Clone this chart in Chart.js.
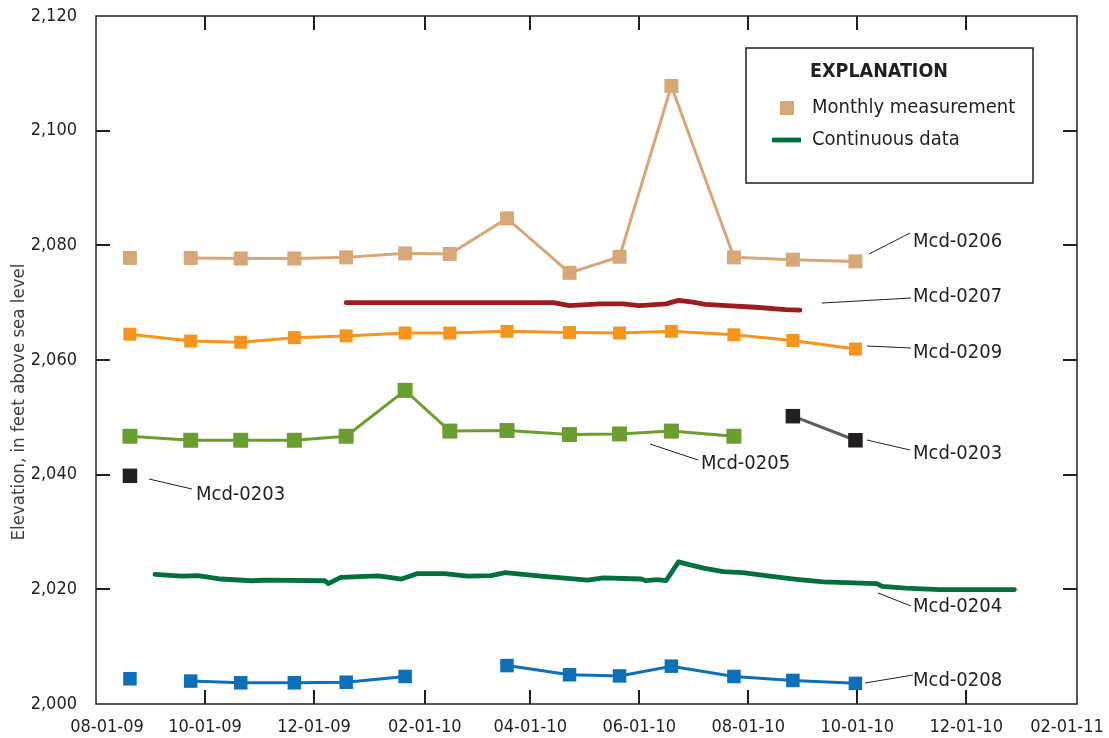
<!DOCTYPE html>
<html><head><meta charset="utf-8">
<script src="https://cdn.jsdelivr.net/npm/chart.js@4.4.1/dist/chart.umd.min.js"></script>
<style>html,body{margin:0;padding:0;background:#fff}#wrap{width:1109px;height:738px;position:relative}</style>
</head><body><div id="wrap"><canvas id="c"></canvas></div>
<script>
// ---------- data ----------
const xTickDates = ['2009-08-01','2009-10-01','2009-12-01','2010-02-01','2010-04-01','2010-06-01','2010-08-01','2010-10-01','2010-12-01','2011-02-01'];
const xTickLabels = ['08-01-09','10-01-09','12-01-09','02-01-10','04-01-10','06-01-10','08-01-10','10-01-10','12-01-10','02-01-11'];
const yMin = 2000, yMax = 2120, yStep = 20;

const monthlyDates = ['2009-08-20','2009-09-23','2009-10-21','2009-11-20','2009-12-19','2010-01-21','2010-02-15','2010-03-19','2010-04-23','2010-05-21','2010-06-19','2010-07-24','2010-08-26','2010-09-30'];
const mcd0206 = [2077.8,2077.8,2077.7,2077.7,2077.9,2078.6,2078.5,2084.7,2075.2,2078.0,2107.8,2077.9,2077.5,2077.2];
const mcd0209 = [2064.5,2063.3,2063.1,2063.9,2064.2,2064.7,2064.7,2065.0,2064.8,2064.7,2065.0,2064.4,2063.4,2061.9];
const mcd0205 = [2046.7,2046.0,2046.0,2046.0,2046.7,2054.7,2047.6,2047.7,2047.0,2047.1,2047.6,2046.7,null,null];
const mcd0203 = [2039.8,null,null,null,null,null,null,null,null,null,null,null,2050.2,2046.0];
const mcd0208 = [2004.4,2004.0,2003.7,2003.7,2003.8,2004.8,null,2006.7,2005.1,2004.9,2006.6,2004.8,2004.1,2003.6];

const mcd0207Dates = ['2009-12-19','2010-04-14','2010-04-23','2010-05-10','2010-05-23','2010-06-01','2010-06-16','2010-06-23','2010-07-01','2010-07-08','2010-07-20','2010-08-05','2010-08-22','2010-08-30'];
const mcd0207 = [2070.0,2070.0,2069.5,2069.8,2069.8,2069.5,2069.8,2070.4,2070.1,2069.7,2069.5,2069.2,2068.8,2068.7];

const mcd0204Dates = ['2009-09-03','2009-09-18','2009-09-27','2009-10-10','2009-10-27','2009-11-04','2009-12-07','2009-12-09','2009-12-16','2010-01-06','2010-01-19','2010-01-28','2010-02-12','2010-02-25','2010-03-10','2010-03-18','2010-04-07','2010-04-22','2010-05-03','2010-05-12','2010-06-02','2010-06-05','2010-06-11','2010-06-16','2010-06-23','2010-06-29','2010-07-07','2010-07-18','2010-07-29','2010-08-13','2010-08-28','2010-09-12','2010-10-12','2010-10-15','2010-10-28','2010-11-16','2010-12-28'];
const mcd0204 = [2022.6,2022.3,2022.4,2021.8,2021.5,2021.6,2021.5,2021.0,2022.1,2022.35,2021.8,2022.75,2022.75,2022.3,2022.4,2022.9,2022.3,2021.9,2021.6,2022.0,2021.8,2021.5,2021.7,2021.5,2024.8,2024.3,2023.7,2023.1,2022.9,2022.3,2021.75,2021.3,2021.0,2020.5,2020.2,2019.95,2019.95];

const legendTitle = 'EXPLANATION';
const legendItems = ['Monthly measurement','Continuous data'];
const yTitle = 'Elevation, in feet above sea level';
const seriesLabels = ['Mcd-0206','Mcd-0207','Mcd-0209','Mcd-0203','Mcd-0205','Mcd-0203','Mcd-0204','Mcd-0208'];

// ---------- layout / style ----------
const labelLayout = [
  {tx:913, ty:242, l:[869,254,910,233]},
  {tx:913, ty:297, l:[822,303,911,298]},
  {tx:913, ty:353, l:[867,346,911,348]},
  {tx:913, ty:454, l:[867,440,910,450]},
  {tx:701, ty:464, l:[650,444,698,460]},
  {tx:196, ty:495, l:[149,479,192,489]},
  {tx:913, ty:607, l:[878,593,911,606]},
  {tx:913, ty:681, l:[865,683,913,675]}
];
const edgeLabelShift = {first: 11, last: -10};
const FONT = "'DejaVu Sans Condensed','DejaVu Sans',sans-serif";
const INK = '#231F20';
const C = {tan:'#D8A777', orange:'#F7941D', green:'#6A9E2F', black:'#231F20', gray:'#5E5E5E', blue:'#0B70B8', red:'#9E1B20', dgreen:'#00703C'};

const t = s => Date.UTC(+s.slice(0,4), +s.slice(5,7)-1, +s.slice(8,10));
const pts = (dates, vals) => dates.map((d,i)=>({x:t(d), y:vals[i]}));
const side = s => s / Math.SQRT2; // rect point radius for a given side length
const skipFirst = ctx => ctx.p0DataIndex === 0 ? 'rgba(0,0,0,0)' : undefined;

function monthly(label, vals, color, lineColor, size, lw, seg){
  return {label, data: pts(monthlyDates, vals), borderColor: lineColor, backgroundColor: color,
    pointBackgroundColor: color, pointBorderWidth: 0, pointStyle: 'rect', pointRadius: side(size),
    borderWidth: lw, spanGaps: false, segment: seg ? {borderColor: seg} : undefined};
}
function continuous(label, dates, vals, color){
  return {label, data: pts(dates, vals), borderColor: color, backgroundColor: color, pointRadius: 0,
    borderWidth: 4.8, borderJoinStyle: 'round', borderCapStyle: 'round'};
}

const datasets = [
  monthly('Mcd-0206', mcd0206, C.tan, C.tan, 14, 3, skipFirst),
  continuous('Mcd-0207', mcd0207Dates, mcd0207, C.red),
  monthly('Mcd-0209', mcd0209, C.orange, C.orange, 13, 3),
  monthly('Mcd-0205', mcd0205, C.green, C.green, 15, 3),
  monthly('Mcd-0203', mcd0203, C.black, C.gray, 14.5, 3),
  continuous('Mcd-0204', mcd0204Dates, mcd0204, C.dgreen),
  monthly('Mcd-0208', mcd0208, C.blue, C.blue, 13.5, 3, skipFirst)
];

const edgeLabels = {
  id: 'edgeLabels',
  beforeDraw(chart){
    const x = chart.scales.x;
    const items = x.getLabelItems(chart.chartArea);
    if (!items || !items.length || items._shifted) return;
    items[0].options.translation[0] += edgeLabelShift.first;
    items[items.length-1].options.translation[0] += edgeLabelShift.last;
    items._shifted = true;
  }
};

const decor = {
  id: 'decor',
  afterDraw(chart){
    const {ctx, chartArea: a, scales:{x, y}} = chart;
    ctx.save();
    // frame
    ctx.strokeStyle = INK; ctx.lineWidth = 1.5;
    ctx.strokeRect(a.left, a.top, a.right - a.left, a.bottom - a.top);
    // inward ticks
    ctx.lineWidth = 2;
    const L = 14;
    x.ticks.forEach(tk => {
      if (tk.value <= x.min || tk.value >= x.max) return;
      const px = Math.round(x.getPixelForValue(tk.value));
      ctx.beginPath(); ctx.moveTo(px, a.bottom); ctx.lineTo(px, a.bottom - L);
      ctx.moveTo(px, a.top); ctx.lineTo(px, a.top + L); ctx.stroke();
    });
    y.ticks.forEach(tk => {
      if (tk.value <= y.min || tk.value >= y.max) return;
      const py = Math.round(y.getPixelForValue(tk.value));
      ctx.beginPath(); ctx.moveTo(a.left, py); ctx.lineTo(a.left + L, py);
      ctx.moveTo(a.right, py); ctx.lineTo(a.right - L, py); ctx.stroke();
    });
    // y title
    ctx.save();
    ctx.translate(19, 402); ctx.rotate(-Math.PI/2);
    ctx.fillStyle = '#404040'; ctx.font = `18.5px ${FONT}`;
    ctx.textAlign = 'center'; ctx.textBaseline = 'middle';
    ctx.fillText(yTitle, 0, 0);
    ctx.restore();
    // legend
    ctx.fillStyle = '#fff';
    ctx.fillRect(746, 48, 287, 135);
    ctx.strokeStyle = INK; ctx.lineWidth = 1.5;
    ctx.strokeRect(746, 48, 287, 135);
    ctx.fillStyle = INK; ctx.textBaseline = 'middle';
    ctx.font = `bold 19.5px ${FONT}`; ctx.textAlign = 'center';
    ctx.fillText(legendTitle, 879, 72);
    ctx.font = `20px ${FONT}`; ctx.textAlign = 'left';
    ctx.fillStyle = chart.data.datasets[0].pointBackgroundColor;
    ctx.fillRect(780, 101, 14, 14);
    ctx.fillStyle = INK; ctx.fillText(legendItems[0], 812, 108);
    ctx.strokeStyle = chart.data.datasets[5].borderColor; ctx.lineWidth = 4.8;
    ctx.beginPath(); ctx.moveTo(772, 140); ctx.lineTo(801, 140); ctx.stroke();
    ctx.fillText(legendItems[1], 812, 140);
    // series labels with leader lines
    ctx.strokeStyle = INK; ctx.lineWidth = 1;
    seriesLabels.forEach((s, i) => {
      const p = labelLayout[i];
      ctx.beginPath(); ctx.moveTo(p.l[0], p.l[1]); ctx.lineTo(p.l[2], p.l[3]); ctx.stroke();
      ctx.fillText(s, p.tx, p.ty);
    });
    ctx.restore();
  }
};

new Chart(document.getElementById('c'), {
  type: 'line',
  data: {datasets},
  options: {
    responsive: true, maintainAspectRatio: false, animation: false,
    layout: {padding: {left: 0, right: 32, top: 16, bottom: 0}},
    plugins: {legend: {display: false}, tooltip: {enabled: false}},
    scales: {
      x: {type: 'linear', min: t(xTickDates[0]), max: t(xTickDates[xTickDates.length-1]),
        afterBuildTicks: s => { s.ticks = xTickDates.map(d => ({value: t(d)})); },
        afterFit: s => { s.height = 34; s.paddingLeft = 0; s.paddingRight = 0; },
        grid: {display: false}, border: {display: false},
        ticks: {autoSkip: false, maxRotation: 0, padding: 5, color: INK, font: {family: FONT, size: 18},
          callback: (v, i) => xTickLabels[i]}},
      y: {min: yMin, max: yMax,
        afterFit: s => { s.width = 96; s.paddingTop = 0; s.paddingBottom = 0; },
        grid: {display: false}, border: {display: false},
        ticks: {stepSize: yStep, padding: 11, color: INK, font: {family: FONT, size: 18},
          callback: v => v.toLocaleString('en-US')}}
    }
  },
  plugins: [edgeLabels, decor]
});
</script></body></html>
